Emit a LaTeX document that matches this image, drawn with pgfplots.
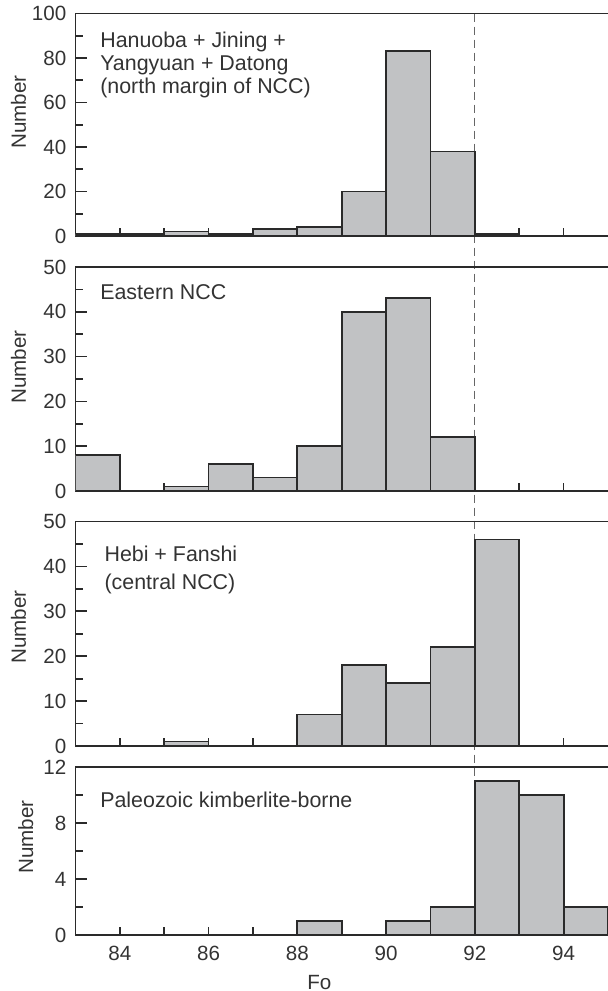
\documentclass[border=0pt]{standalone}
\usepackage{fontspec}
\setmainfont{Liberation Sans}
\usepackage{pgfplots}
\pgfplotsset{compat=1.18}
\usetikzlibrary{backgrounds}
\definecolor{barfill}{HTML}{C1C2C4}
\definecolor{ink}{HTML}{2A2A2A}
\definecolor{txt}{HTML}{333333}
\tikzset{note/.style={anchor=base west, font=\fontsize{10.7}{12}\selectfont, text=txt, inner sep=0pt}}
\pgfplotsset{
  panel/.style={
    scale only axis, width=266.3pt,
    xmin=83, xmax=95, ymin=0,
    axis x line=box, axis y line=left,
    axis line style={-, draw=ink, line width=0.85pt},
    tick align=inside,
    xtick pos=left, ytick pos=left,
    xtick={84,86,...,94},
    minor xtick={85,87,...,93},
    major tick length=6pt, minor tick length=4pt,
    xtick style={/pgfplots/major tick length=4pt},
    every tick/.style={draw=ink, line width=0.85pt},
    minor y tick num=1,
    /pgf/number format/assume math mode=true,
    ticklabel style={font=\fontsize{10.3}{12}\selectfont, text=txt},
    yticklabel style={xshift=-1pt},
    xticklabel style={yshift=-2pt},
    label style={font=\fontsize{10.3}{12}\selectfont, text=txt},
    ylabel=Number,
  },
  bars/.style={ybar interval, fill=barfill, draw=ink, line width=0.9pt},
}
\begin{document}
\begin{tikzpicture}
\path[use as bounding box] (0,0) rectangle (304pt,-495.5pt);

% Panel 1
\begin{axis}[panel, at={(37.7pt,-118pt)}, anchor=south west, height=111.25pt,
  ymax=100, ytick={0,20,...,100}, xticklabels={},
  ylabel style={at={(axis description cs:-0.107,0.557)}, anchor=center}]
\addplot[bars] coordinates {(83,1)(84,1)(85,2)(86,1)(87,3)(88,4)(89,20)(90,83)(91,38)(92,1)(93,0)(94,0)(95,0)};
\node[note] at (axis description cs:0.046,0.849) {Hanuoba + Jining +};
\node[note] at (axis description cs:0.046,0.745) {Yangyuan + Datong};
\node[note] at (axis description cs:0.046,0.640) {(north margin of NCC)};
\coordinate (dtop) at (axis cs:92,100);
\end{axis}

% Panel 2
\begin{axis}[panel, at={(37.7pt,-245.5pt)}, anchor=south west, height=112pt,
  ymax=50, ytick={0,10,...,50}, xticklabels={},
  ylabel style={at={(axis description cs:-0.107,0.554)}, anchor=center}]
\addplot[bars] coordinates {(83,8)(84,0)(85,1)(86,6)(87,3)(88,10)(89,40)(90,43)(91,12)(92,0)(93,0)(94,0)(95,0)};
\node[note] at (axis description cs:0.046,0.853) {Eastern NCC};
\end{axis}

% Panel 3
\begin{axis}[panel, at={(37.7pt,-373pt)}, anchor=south west, height=112.25pt,
  ymax=50, ytick={0,10,...,50}, xticklabels={},
  ylabel style={at={(axis description cs:-0.107,0.53)}, anchor=center}]
\addplot[bars] coordinates {(83,0)(84,0)(85,1)(86,0)(87,0)(88,7)(89,18)(90,14)(91,22)(92,46)(93,0)(94,0)(95,0)};
\node[note] at (axis description cs:0.054,0.820) {Hebi + Fanshi};
\node[note] at (axis description cs:0.054,0.695) {(central NCC)};
\end{axis}

% Panel 4
\begin{axis}[panel, at={(37.7pt,-467.5pt)}, anchor=south west, height=84pt,
  ymax=12, ytick={0,4,8,12},
  xlabel=Fo, xlabel style={at={(axis description cs:0.458,-0.28)}, anchor=center},
  ylabel style={at={(axis description cs:-0.093,0.583)}, anchor=center}]
\addplot[bars] coordinates {(83,0)(84,0)(85,0)(86,0)(87,0)(88,1)(89,0)(90,1)(91,2)(92,11)(93,10)(94,2)(95,0)};
\node[note] at (axis description cs:0.046,0.758) {Paleozoic kimberlite-borne};
\coordinate (dbot) at (axis cs:92,0);
\end{axis}

\begin{scope}[on background layer]
\draw[draw=black!60, line width=0.6pt, dash pattern=on 4pt off 2.5pt] (dtop) -- (dbot);
\end{scope}
\end{tikzpicture}
\end{document}
